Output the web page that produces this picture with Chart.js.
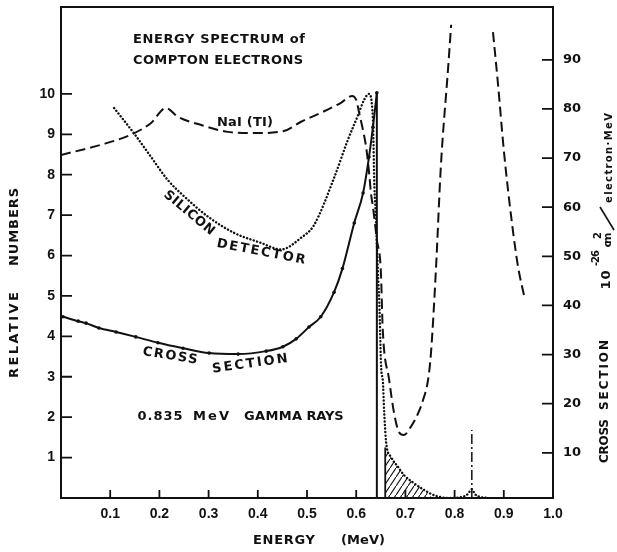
<!DOCTYPE html>
<html>
<head>
<meta charset="utf-8">
<script src="https://cdn.jsdelivr.net/npm/chart.js@4.4.1/dist/chart.umd.min.js"></script>
<style>
  html, body { margin: 0; padding: 0; background: #fff; }
  canvas { display: block; }
</style>
</head>
<body>
<canvas id="chart" width="617" height="552"></canvas>
<script>
// tick labels
const xTicks = [0.1, 0.2, 0.3, 0.4, 0.5, 0.6, 0.7, 0.8, 0.9, 1.0];
const yTicks = [1, 2, 3, 4, 5, 6, 7, 8, 9, 10];
const y2Ticks = [10, 20, 30, 40, 50, 60, 70, 80, 90];

// NaI (Tl) spectrum, relative numbers (null = gap off the top)
const naiE = [0.000, 0.081, 0.142, 0.183, 0.213, 0.238, 0.285, 0.339, 0.392, 0.453, 0.488, 0.528, 0.569, 0.592, 0.600, 0.606, 0.613, 0.620, 0.623, 0.627, 0.630, 0.634, 0.642, 0.650, 0.654, 0.667, 0.677, 0.687, 0.697, 0.711, 0.726, 0.736, 0.746, 0.752, 0.762, 0.772, 0.787, 0.793, 0.835, 0.878, 0.888, 0.900, 0.915, 0.929, 0.941];
const naiN = [8.49, 8.74, 8.99, 9.28, 9.65, 9.43, 9.23, 9.06, 9.03, 9.08, 9.31, 9.53, 9.78, 9.95, 9.85, 9.53, 9.15, 8.70, 8.41, 7.95, 7.54, 7.21, 6.39, 5.64, 4.16, 2.92, 2.10, 1.63, 1.56, 1.76, 2.10, 2.43, 2.92, 3.59, 5.64, 8.19, 10.67, 11.71, null, 11.53, 10.27, 8.61, 6.96, 5.72, 5.02];

// silicon detector spectrum, relative numbers
const siE = [0.108, 0.148, 0.183, 0.217, 0.258, 0.299, 0.352, 0.407, 0.447, 0.488, 0.514, 0.555, 0.583, 0.604, 0.616, 0.626, 0.634, 0.637, 0.639, 0.644, 0.647, 0.651, 0.654, 0.657, 0.661, 0.671, 0.685, 0.697, 0.717, 0.738, 0.758, 0.787, 0.813, 0.827, 0.835, 0.841, 0.854, 0.868];
const siN = [9.65, 9.03, 8.44, 7.87, 7.38, 6.96, 6.56, 6.31, 6.15, 6.44, 6.75, 7.92, 8.86, 9.48, 9.85, 10.0, 9.36, 7.70, 7.20, 5.64, 4.83, 3.17, 2.92, 2.10, 1.36, 1.01, 0.77, 0.57, 0.37, 0.20, 0.07, 0.00, 0.02, 0.10, 0.22, 0.10, 0.02, 0.00];

// Compton cross section, 10^-26 cm2/electron.MeV
const csE = [0.004, 0.035, 0.051, 0.077, 0.112, 0.152, 0.197, 0.248, 0.301, 0.360, 0.417, 0.451, 0.478, 0.504, 0.528, 0.555, 0.572, 0.596, 0.614, 0.626, 0.634, 0.642];
const csV = [37.7, 36.8, 36.4, 35.4, 34.6, 33.6, 32.4, 31.3, 30.3, 30.1, 30.7, 31.6, 33.2, 35.6, 37.7, 42.7, 47.5, 56.8, 62.9, 70.2, 76.3, 83.3];

// Compton edge
const edgeE = [0.642, 0.642];
const edgeV = [0, 83.3];

// hatched tail beyond the edge
const hatchE = [0.659, 0.659, 0.671, 0.685, 0.697, 0.717, 0.738, 0.755];
const hatchN = [0, 1.25, 1.01, 0.77, 0.57, 0.37, 0.20, 0.0];

// 0.835 MeV marker
const gamE = [0.835, 0.835];
const gamN = [0, 1.68];

const ink = '#111';
const zip = (xs, ys) => xs.map((x, i) => ({ x: x, y: ys[i] }));

// diagonal hatch pattern
const pc = document.createElement('canvas');
pc.width = 6; pc.height = 9;
const pctx = pc.getContext('2d');
pctx.strokeStyle = ink;
pctx.lineWidth = 1.1;
pctx.beginPath();
pctx.moveTo(0, 9); pctx.lineTo(6, 0);
pctx.stroke();
const hatch = pctx.createPattern(pc, 'repeat');

function word(ctx, t, cx, cy, w, size, deg) {
  ctx.save();
  ctx.translate(cx, cy);
  ctx.rotate(deg * Math.PI / 180);
  ctx.font = 'bold ' + size + 'px "DejaVu Sans"';
  ctx.letterSpacing = '0px';
  const m = ctx.measureText(t).width;
  const ls = t.length > 1 ? (w - m) / (t.length - 1) : 0;
  ctx.letterSpacing = ls + 'px';
  ctx.textAlign = 'left';
  ctx.textBaseline = 'middle';
  ctx.fillStyle = ink;
  ctx.fillText(t, -w / 2, 0);
  ctx.restore();
}

// text, centre x, centre y, width, size, angle
const labels = [
  ['ENERGY SPECTRUM of', 219, 40, 172, 13, 0],
  ['COMPTON ELECTRONS', 218, 61, 170, 13, 0],
  ['NaI (TI)', 245, 123, 56, 13, 0],
  ['SILICON', 189, 213, 62, 13, 40],
  ['DETECTOR', 261, 252, 90, 13, 11],
  ['CROSS', 170, 356, 55, 13, 9],
  ['SECTION', 250, 364, 76, 13, -8],
  ['0.835', 160, 417, 45, 13, 0],
  ['MeV', 211, 417, 36, 13, 0],
  ['GAMMA', 273, 417, 58, 13, 0],
  ['RAYS', 325, 417, 37, 13, 0],
  ['ENERGY', 284, 541, 62, 13, 0],
  ['(MeV)', 363, 541, 44, 13, 0],
  ['RELATIVE', 15, 335, 86, 13, -90],
  ['NUMBERS', 15, 227, 78, 13, -90],
  ['CROSS', 605, 441, 44, 12, -90],
  ['SECTION', 605, 375, 70, 12, -90],
  ['10', 607, 280, 19, 13, -90],
  ['-26', 596, 258, 16, 10, -90],
  ['cm', 608, 240, 15, 11, -90],
  ['2', 598, 236, 6, 10, -90],
  ['electron\u00b7MeV', 609, 158, 90, 10, -90]
];

const paper = {
  id: 'paper',
  beforeDraw(chart) {
    const c = chart.ctx;
    c.save();
    c.fillStyle = '#fff';
    c.fillRect(0, 0, chart.width, chart.height);
    c.restore();
  }
};

const frame = {
  id: 'frame',
  afterDraw(chart) {
    const c = chart.ctx;
    const a = chart.chartArea;
    const sx = chart.scales.x, sy = chart.scales.y, sy2 = chart.scales.y2;
    c.save();
    c.strokeStyle = ink;
    c.lineWidth = 2;
    c.strokeRect(a.left, a.top, a.right - a.left, a.bottom - a.top);
    c.lineWidth = 1.8;
    c.beginPath();
    xTicks.forEach(v => {
      const p = sx.getPixelForValue(v);
      c.moveTo(p, a.bottom); c.lineTo(p, a.bottom - 8);
    });
    yTicks.forEach(v => {
      const p = sy.getPixelForValue(v);
      c.moveTo(a.left, p); c.lineTo(a.left + 11, p);
    });
    y2Ticks.forEach(v => {
      const p = sy2.getPixelForValue(v);
      c.moveTo(a.right, p); c.lineTo(a.right - 11, p);
    });
    c.stroke();
    // big slash of the unit label
    c.lineWidth = 1.6;
    c.beginPath();
    c.moveTo(614, 230); c.lineTo(600, 207);
    c.stroke();
    labels.forEach(l => word(c, l[0], l[1], l[2], l[3], l[4], l[5]));
    c.restore();
  }
};

const tickFont = { family: '"Liberation Sans"', weight: 'bold', size: 14 };
const noPad = s => { s.paddingTop = 0; s.paddingBottom = 0; s.paddingLeft = 0; s.paddingRight = 0; };
const hidden = { display: false, drawTicks: false };

new Chart(document.getElementById('chart'), {
  type: 'line',
  data: {
    datasets: [
      {
        data: zip(hatchE, hatchN), yAxisID: 'y',
        borderWidth: 0, pointRadius: 0, tension: 0,
        fill: 'origin', backgroundColor: hatch
      },
      {
        data: zip(csE, csV), yAxisID: 'y2',
        borderColor: ink, borderWidth: 2, cubicInterpolationMode: 'monotone',
        pointRadius: 1.8, pointBackgroundColor: ink, pointBorderWidth: 0, fill: false
      },
      {
        data: zip(edgeE, edgeV), yAxisID: 'y2',
        borderColor: ink, borderWidth: 2, pointRadius: 0, fill: false
      },
      {
        data: zip(naiE, naiN), yAxisID: 'y',
        borderColor: ink, borderWidth: 2, borderDash: [10, 5],
        cubicInterpolationMode: 'monotone', spanGaps: false, pointRadius: 0, fill: false
      },
      {
        data: zip(siE, siN), yAxisID: 'y',
        borderColor: ink, borderWidth: 2.4, borderDash: [0.1, 3.4], borderCapStyle: 'round',
        cubicInterpolationMode: 'monotone', pointRadius: 0, fill: false
      },
      {
        data: zip(hatchE.slice(0, 2), hatchN.slice(0, 2)), yAxisID: 'y',
        borderColor: ink, borderWidth: 1.8, pointRadius: 0, fill: false
      },
      {
        data: zip(gamE, gamN), yAxisID: 'y',
        borderColor: ink, borderWidth: 1.5, borderDash: [10, 3, 2, 3],
        pointRadius: 0, fill: false
      }
    ]
  },
  options: {
    responsive: false,
    animation: false,
    layout: { padding: { top: 7, left: 0, right: 0, bottom: 0 } },
    plugins: { legend: { display: false }, tooltip: { enabled: false } },
    scales: {
      x: {
        type: 'linear', min: 0, max: 1,
        afterFit(s) { s.height = 54; noPad(s); },
        afterBuildTicks(s) { s.ticks = xTicks.map(v => ({ value: v })); },
        grid: hidden, border: { display: false },
        ticks: { padding: 8, color: ink, font: tickFont, maxRotation: 0, autoSkip: false,
                 callback: v => v.toFixed(1) }
      },
      y: {
        position: 'left', min: 0, max: 12.15,
        afterFit(s) { s.width = 61; noPad(s); },
        afterBuildTicks(s) { s.ticks = yTicks.map(v => ({ value: v })); },
        grid: hidden, border: { display: false },
        ticks: { padding: 6, color: ink, font: tickFont }
      },
      y2: {
        position: 'right', min: 0.8, max: 100.76,
        afterFit(s) { s.width = 64; noPad(s); },
        afterBuildTicks(s) { s.ticks = y2Ticks.map(v => ({ value: v })); },
        grid: hidden, border: { display: false },
        ticks: { padding: 10, color: ink, font: { family: '"DejaVu Sans"', weight: 'bold', size: 13 } }
      }
    }
  },
  plugins: [paper, frame]
});
</script>
</body>
</html>
